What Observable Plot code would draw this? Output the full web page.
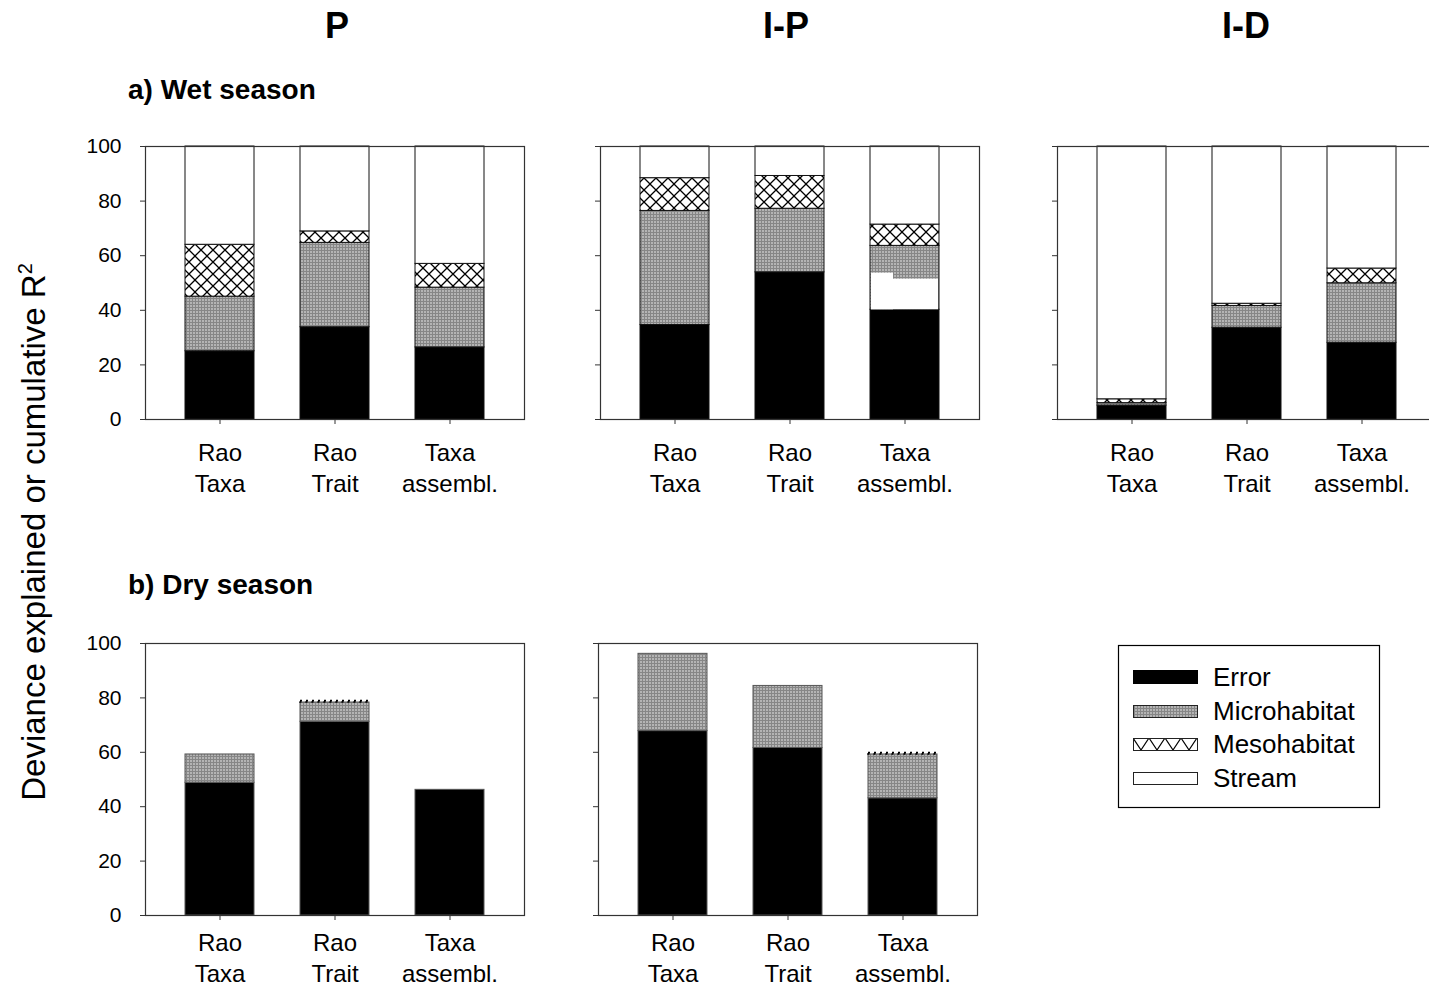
<!DOCTYPE html>
<html><head><meta charset="utf-8">
<script src="https://cdn.jsdelivr.net/npm/d3@7"></script>
<script src="https://cdn.jsdelivr.net/npm/@observablehq/plot@0.6"></script>
<style>
html,body{margin:0;padding:0;background:#fff;overflow:hidden;}
#page{position:relative;width:1429px;height:991px;overflow:hidden;font-family:"Liberation Sans",Arial,sans-serif;background:#fff;}
#page .panel{position:absolute;}
#overlay{position:absolute;left:0;top:0;}
</style></head><body><div id="page"></div>
<script>
// ---------- data ----------
const categories = ["Rao Taxa", "Rao Trait", "Taxa assembl."];
const tickLabels = ["Rao\nTaxa", "Rao\nTrait", "Taxa\nassembl."];
const components = ["Error", "Microhabitat", "Mesohabitat", "Stream"];
const yTicks = [0, 20, 40, 60, 80, 100];
const panelTitles = ["P", "I-P", "I-D"];
const seasonTitles = ["a) Wet season", "b) Dry season"];
const yTitle = "Deviance explained or cumulative R";

// a) wet season, site P
const wetP_Error  = [25.0, 33.8, 26.4];
const wetP_Micro  = [20.0, 30.9, 21.9];
const wetP_Meso   = [19.0,  4.2,  8.7];
const wetP_Stream = [36.0, 31.1, 43.0];
// a) wet season, site I-P
const wetIP_Error  = [34.6, 53.9, 40.2];
const wetIP_Micro  = [41.8, 23.3, 23.4];
const wetIP_Meso   = [12.0, 12.0,  7.8];
const wetIP_Stream = [11.6, 10.8, 28.6];
// unfilled (white) patch inside the I-P "Taxa assembl." microhabitat block
const wetIP_gapFrom = [40.2, 40.2];
const wetIP_gapTo   = [51.4, 53.6];
// a) wet season, site I-D
const wetID_Error  = [5.1, 33.6, 28.1];
const wetID_Micro  = [0.9,  8.0, 21.8];
const wetID_Meso   = [1.4,  0.8,  5.4];
const wetID_Stream = [92.6, 57.6, 44.7];
// b) dry season, site P
const dryP_Error  = [48.8, 71.2, 46.2];
const dryP_Micro  = [10.4,  7.1,  0.0];
const dryP_Meso   = [ 0.0,  0.5,  0.0];
const dryP_Stream = [ 0.0,  0.0,  0.0];
// b) dry season, site I-P
const dryIP_Error  = [67.8, 61.6, 43.1];
const dryIP_Micro  = [28.4, 22.8, 16.1];
const dryIP_Meso   = [ 0.0,  0.0,  0.5];
const dryIP_Stream = [ 0.0,  0.0,  0.0];

// ---------- layout ----------
const FONT = '"Liberation Sans", Arial, sans-serif';
const ML = 70, MR = 10, MT = 10, MB = 80, FW = 379;
const fills = ["#000", "url(#micro)", "url(#meso)", "#fff"];
const page = document.getElementById("page");

function buildRows(series) {
  const rows = [];
  categories.forEach((c, i) => {
    let acc = 0;
    components.forEach((k, j) => {
      const v = series[j][i];
      if (v > 0) rows.push({cat: c, comp: k, y1: acc, y2: acc + v});
      acc += v;
    });
  });
  return rows;
}

function panel(series, left, top, fh, opts = {}) {
  const rows = buildRows(series);
  const dry = !!opts.dry;
  const marks = [];
  if (dry) {
    marks.push(Plot.barY(rows.filter(d => d.comp !== "Mesohabitat"),
      {x: "cat", y1: "y1", y2: "y2", fill: "comp", stroke: "#555", strokeWidth: 1}));
    marks.push(Plot.barY(rows.filter(d => d.comp === "Mesohabitat"),
      {x: "cat", y1: "y1", y2: "y2", fill: "none", stroke: "#000", strokeWidth: 1.6, strokeDasharray: "2,4"}));
  } else {
    marks.push(Plot.barY(rows, {x: "cat", y1: "y1", y2: "y2", fill: "comp", stroke: "#111", strokeWidth: 1}));
  }
  if (opts.gap) {
    const g = opts.gap;
    marks.push(Plot.barY([{cat: g.cat, y1: g.from[0], y2: g.to[0]}],
      {x: "cat", y1: "y1", y2: "y2", fill: "#fff", insetLeft: 1, insetRight: 1}));
    marks.push(Plot.barY([{cat: g.cat, y1: g.from[1], y2: g.to[1]}],
      {x: "cat", y1: "y1", y2: "y2", fill: "#fff", insetLeft: 1, insetRight: 46}));
  }
  marks.push(Plot.frame({stroke: "#333", strokeWidth: 1.2}));
  marks.push(Plot.axisY({ticks: yTicks, tickSize: 5, tickPadding: 19, fontSize: 21, label: null, stroke: "#333",
    tickFormat: opts.noYLabels ? () => "" : d => String(d)}));
  marks.push(Plot.axisX({tickSize: 5, tickPadding: opts.xPad, fontSize: 24, lineHeight: 1.3, label: null, stroke: "#333",
    tickFormat: c => tickLabels[categories.indexOf(c)]}));
  const chart = Plot.plot({
    width: ML + FW + MR, height: MT + fh + MB,
    marginLeft: ML, marginRight: MR, marginTop: MT, marginBottom: MB,
    x: {type: "band", domain: categories, paddingInner: 0.4, paddingOuter: 0.34},
    y: {domain: [0, 100]},
    color: {type: "ordinal", domain: components, range: fills},
    style: {fontFamily: FONT, color: "#000", background: "transparent", overflow: "visible"},
    marks
  });
  chart.classList.add("panel");
  chart.style.left = (left - ML) + "px";
  chart.style.top = (top - MT) + "px";
  page.appendChild(chart);
}

// ---------- overlay: patterns, titles, legend ----------
const NS = "http://www.w3.org/2000/svg";
const ov = document.createElementNS(NS, "svg");
ov.setAttribute("id", "overlay");
ov.setAttribute("width", 1429);
ov.setAttribute("height", 991);
ov.style.fontFamily = FONT;
ov.innerHTML = `
<defs>
  <pattern id="micro" width="3" height="3" patternUnits="userSpaceOnUse">
    <rect width="3" height="3" fill="#b4b4b4"/>
    <rect width="3" height="1" fill="#868686"/>
    <rect width="1" height="3" fill="#868686"/>
  </pattern>
  <pattern id="meso" width="12" height="12" patternUnits="userSpaceOnUse">
    <rect width="12" height="12" fill="#fff"/>
    <path d="M0,0L12,12M12,0L0,12" stroke="#000" stroke-width="1.3"/>
  </pattern>
  <pattern id="mesoL" x="1133" y="738" width="16" height="24" patternUnits="userSpaceOnUse">
    <rect width="16" height="24" fill="#fff"/>
    <path d="M0,0L16,24M16,0L0,24" stroke="#000" stroke-width="1.2"/>
  </pattern>
</defs>`;
page.appendChild(ov);

function txt(s, x, y, size, weight, anchor) {
  const t = document.createElementNS(NS, "text");
  t.setAttribute("x", x); t.setAttribute("y", y);
  t.setAttribute("font-size", size);
  t.setAttribute("font-weight", weight || "normal");
  t.setAttribute("text-anchor", anchor || "start");
  t.setAttribute("fill", "#000");
  t.textContent = s;
  ov.appendChild(t);
  return t;
}

// panels
panel([wetP_Error, wetP_Micro, wetP_Meso, wetP_Stream], 145, 146, 273, {xPad: 14});
panel([wetIP_Error, wetIP_Micro, wetIP_Meso, wetIP_Stream], 600, 146, 273,
  {xPad: 14, noYLabels: true, gap: {cat: categories[2], from: wetIP_gapFrom, to: wetIP_gapTo}});
panel([wetID_Error, wetID_Micro, wetID_Meso, wetID_Stream], 1057, 146, 273, {xPad: 14, noYLabels: true});
panel([dryP_Error, dryP_Micro, dryP_Meso, dryP_Stream], 145, 643, 272, {dry: true, xPad: 8});
panel([dryIP_Error, dryIP_Micro, dryIP_Meso, dryIP_Stream], 598, 643, 272, {dry: true, xPad: 8, noYLabels: true});

// put overlay on top
page.appendChild(ov);

// titles
txt(panelTitles[0], 337, 38, 36, "bold", "middle");
txt(panelTitles[1], 786, 38, 36, "bold", "middle");
txt(panelTitles[2], 1246, 38, 36, "bold", "middle");
txt(seasonTitles[0], 128, 99, 28, "bold");
txt(seasonTitles[1], 128, 594, 28, "bold");

// y title
const yt = document.createElementNS(NS, "text");
yt.setAttribute("transform", "translate(45,532) rotate(-90)");
yt.setAttribute("text-anchor", "middle");
yt.setAttribute("font-size", 33);
yt.setAttribute("fill", "#000");
yt.innerHTML = yTitle + '<tspan font-size="20" dy="-13">2</tspan>';
ov.appendChild(yt);

// legend
const lg = document.createElementNS(NS, "g");
lg.innerHTML = `<rect x="1118.5" y="645.5" width="261" height="162" fill="#fff" stroke="#000" stroke-width="1.2"/>`;
ov.appendChild(lg);
const swY = [670, 705, 738, 772];
const swH = [13, 12, 12, 12];
const swFill = ["#000", "url(#micro)", "url(#mesoL)", "#fff"];
const txY = [686, 719.5, 753, 786.5];
components.forEach((k, i) => {
  const r = document.createElementNS(NS, "rect");
  r.setAttribute("x", 1133.5); r.setAttribute("y", swY[i] + 0.5);
  r.setAttribute("width", 64); r.setAttribute("height", swH[i]);
  r.setAttribute("fill", swFill[i]);
  r.setAttribute("stroke", i === 0 ? "#000" : "#222");
  r.setAttribute("stroke-width", 1);
  ov.appendChild(r);
  txt(k, 1213, txY[i], 26, "normal");
});
</script>
</body></html>
